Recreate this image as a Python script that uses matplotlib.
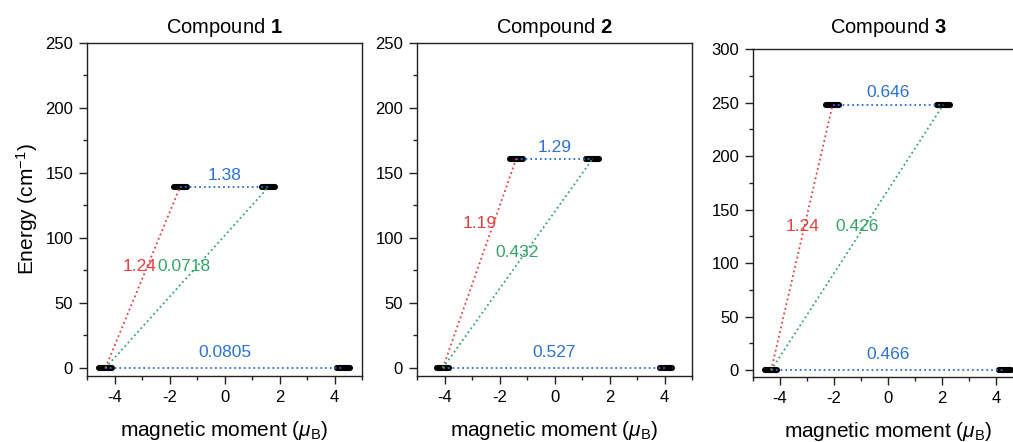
import numpy as np
import matplotlib
matplotlib.use("Agg")
import matplotlib.pyplot as plt
from matplotlib.ticker import MultipleLocator

plt.rcParams["font.family"] = ["Liberation Sans", "DejaVu Sans"]
plt.rcParams["mathtext.fontset"] = "custom"
plt.rcParams["mathtext.rm"] = "Liberation Sans"
plt.rcParams["mathtext.it"] = "Liberation Sans:italic"
plt.rcParams["mathtext.bf"] = "Liberation Sans:bold"
plt.rcParams["axes.unicode_minus"] = False

# energy levels: (ground, excited) doublets, moment in muB, energy in cm-1
compounds = ["1", "2", "3"]
ground_moment = [4.33, 4.06, 4.33]
excited_moment = [1.61, 1.39, 2.05]
excited_energy = [139.5, 161.0, 248.0]

# transition matrix elements
qtm_ground = ["0.0805", "0.527", "0.466"]      # blue, ground doublet
qtm_excited = ["1.38", "1.29", "0.646"]        # blue, excited doublet
orbach_same = ["1.24", "1.19", "1.24"]         # red
orbach_cross = ["0.0718", "0.432", "0.426"]    # green

# label positions (moment, energy)
lab_ground = [(0, 11.8), (0, 11.8), (0, 15)]
lab_excited = [(0, 148), (0, 169.5), (0, 259)]
lab_same = [(-3.08, 78), (-2.73, 111), (-3.18, 134)]
lab_cross = [(-1.46, 78), (-1.36, 89), (-1.15, 134)]

ymax = [250, 250, 300]
ymin = [-6.2, -6.2, -6.3]

red = "#e5403f"
green = "#35a566"
blue = "#2b72d2"

W, H = 1013, 442
fig = plt.figure(figsize=(W / 100, H / 100), dpi=100)
boxes = [(87, 362, 43, 376), (417, 692, 43, 376), (753, 1023, 49, 377)]
title_pad = [7, 7, 11.5]

half = 0.23  # half-length of level bar
for i, (l, r, t, b) in enumerate(boxes):
    ax = fig.add_axes([l / W, (H - b) / H, (r - l) / W, (b - t) / H])
    g, e, E = ground_moment[i], excited_moment[i], excited_energy[i]

    # level bars
    for x, y in [(-g, 0), (g, 0), (-e, E), (e, E)]:
        ax.plot([x - half, x + half], [y, y], color="black", lw=4.4,
                solid_capstyle="round", zorder=2)

    # transitions
    ax.plot([-g, g], [0, 0], ":", color=blue, lw=1.3, zorder=3)
    ax.plot([-e, e], [E, E], ":", color=blue, lw=1.3, zorder=3)
    ax.plot([-g, -e], [0, E], ":", color=red, lw=1.3, zorder=3)
    ax.plot([-g, e], [0, E], ":", color=green, lw=1.3, zorder=3)

    fs = 12.5
    ax.text(*lab_ground[i], qtm_ground[i], color=blue, fontsize=fs, ha="center", va="center")
    ax.text(*lab_excited[i], qtm_excited[i], color=blue, fontsize=fs, ha="center", va="center")
    ax.text(*lab_same[i], orbach_same[i], color=red, fontsize=fs, ha="center", va="center")
    ax.text(*lab_cross[i], orbach_cross[i], color=green, fontsize=fs, ha="center", va="center")

    ax.set_xlim(-5, 5)
    ax.set_ylim(ymin[i], ymax[i])
    ax.xaxis.set_major_locator(MultipleLocator(2))
    ax.xaxis.set_minor_locator(MultipleLocator(1))
    ax.yaxis.set_major_locator(MultipleLocator(50))
    ax.yaxis.set_minor_locator(MultipleLocator(25))
    ax.tick_params(which="both", direction="out", top=False, right=False,
                   labelsize=12, width=1.0, color="#222222")
    ax.tick_params(which="major", length=5.5, pad=4.5)
    ax.tick_params(which="minor", length=3)
    for s in ax.spines.values():
        s.set_linewidth(1.0)
        s.set_color("#222222")

    ax.set_title("Compound $\\mathbf{%s}$" % compounds[i], fontsize=14.5, pad=title_pad[i])
    ax.set_xlabel("magnetic moment ($\\mu_\\mathrm{B}$)", fontsize=15, labelpad=10)
    if i == 0:
        ax.set_ylabel("Energy (cm$^{-1}$)", fontsize=15, labelpad=4)

fig.savefig("out.png", dpi=100)
